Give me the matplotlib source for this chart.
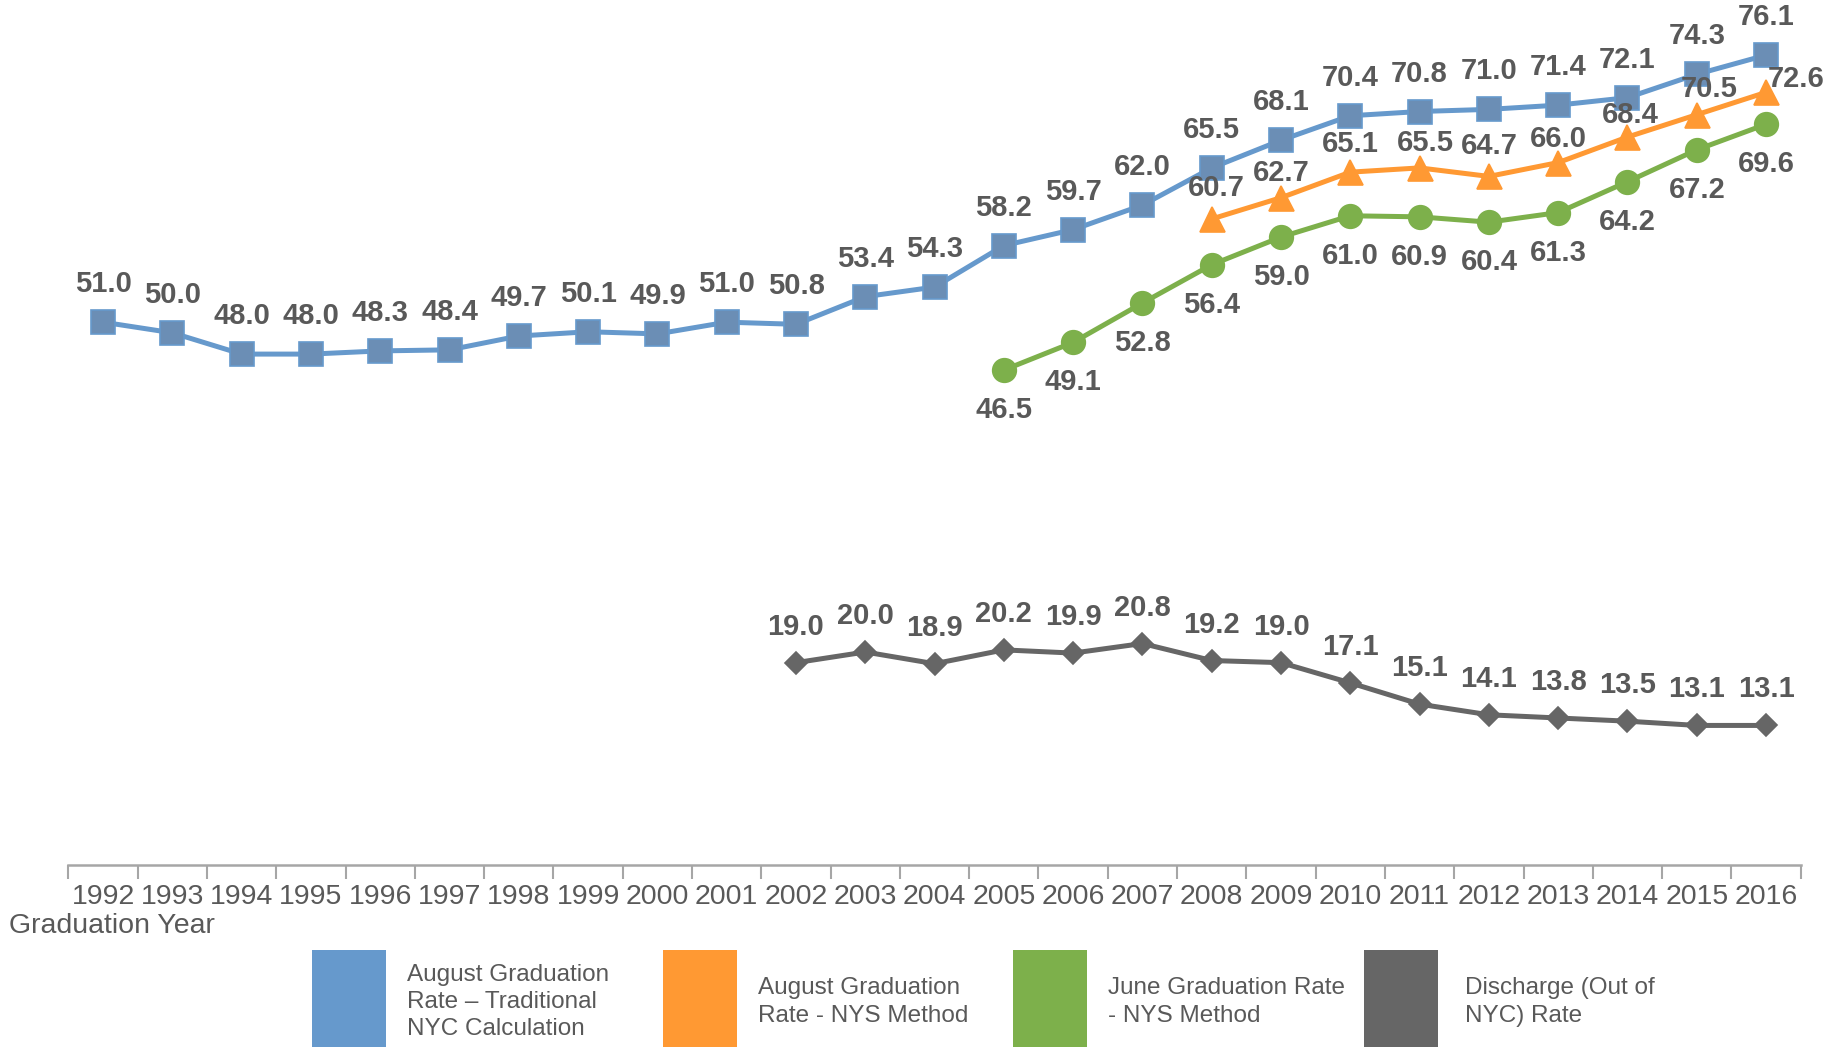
import matplotlib
matplotlib.use("Agg")
import matplotlib.pyplot as plt
from matplotlib.patches import Rectangle

plt.rcParams['font.family'] = ['Liberation Sans', 'DejaVu Sans']

# data
years = [str(y) for y in range(1992, 2017)]

aug_nyc = [51.0, 50.0, 48.0, 48.0, 48.3, 48.4, 49.7, 50.1, 49.9, 51.0, 50.8, 53.4,
           54.3, 58.2, 59.7, 62.0, 65.5, 68.1, 70.4, 70.8, 71.0, 71.4, 72.1, 74.3, 76.1]
aug_nys_start = 2008
aug_nys = [60.7, 62.7, 65.1, 65.5, 64.7, 66.0, 68.4, 70.5, 72.6]
june_nys_start = 2005
june_nys = [46.5, 49.1, 52.8, 56.4, 59.0, 61.0, 60.9, 60.4, 61.3, 64.2, 67.2, 69.6]
discharge_start = 2002
discharge = [19.0, 20.0, 18.9, 20.2, 19.9, 20.8, 19.2, 19.0, 17.1, 15.1, 14.1, 13.8,
             13.5, 13.1, 13.1]

labels = ["August Graduation\nRate \u2013 Traditional\nNYC Calculation",
          "August Graduation\nRate - NYS Method",
          "June Graduation Rate\n- NYS Method",
          "Discharge (Out of\nNYC) Rate"]

TXT = '#595959'
colors = ['#6699CC', '#FF9933', '#7DB04B', '#666666']

fig = plt.figure(figsize=(18.35, 10.47), dpi=100)
ax = fig.add_axes([0.0373, 0.174, 0.944, 0.813])


def xs(start, n):
    i0 = start - 1992
    return list(range(i0, i0 + n))


series = [
    (xs(1992, len(aug_nyc)), aug_nyc, colors[0], 's', 17, '#6B8EB5'),
    (xs(aug_nys_start, len(aug_nys)), aug_nys, colors[1], '^', 18, colors[1]),
    (xs(june_nys_start, len(june_nys)), june_nys, colors[2], 'o', 17, colors[2]),
    (xs(discharge_start, len(discharge)), discharge, colors[3], 'D', 11, colors[3]),
]

for x, y, c, m, ms, fc in series:
    ax.plot(x, y, color=c, lw=3.6, marker=m, ms=ms, mfc=fc, mec=c, mew=1.2,
            zorder=3, clip_on=False)

lab_kw = dict(textcoords='offset pixels', ha='center', va='center',
              fontsize=21, fontweight='bold', color=TXT)

# blue labels above
for x, v in zip(series[0][0], aug_nyc):
    ax.annotate(f"{v:.1f}", (x, v), xytext=(0, 38), **lab_kw)

# orange labels above, last ones nudged right
orange_dx = [5, 0, 0, 6, 0, 0, 3, 12, 30]
orange_dy = [31, 25, 28, 25, 30, 24, 22, 26, 13]
for x, v, dx, dy in zip(series[1][0], aug_nys, orange_dx, orange_dy):
    ax.annotate(f"{v:.1f}", (x, v), xytext=(dx, dy), **lab_kw)

# green labels below
for x, v in zip(series[2][0], june_nys):
    ax.annotate(f"{v:.1f}", (x, v), xytext=(0, -40), **lab_kw)

# gray labels above
for x, v in zip(series[3][0], discharge):
    ax.annotate(f"{v:.1f}", (x, v), xytext=(0, 36), **lab_kw)

ax.set_xlim(-0.5, len(years) - 0.5)
ax.set_ylim(0, 80)
ax.set_xticks(range(len(years)))
ax.set_xticklabels(years)
ax.set_xticks([i - 0.5 for i in range(len(years) + 1)], minor=True)
ax.tick_params(axis='x', which='major', length=0, pad=14, labelsize=20.5, labelcolor=TXT)
ax.tick_params(axis='x', which='minor', length=10, width=1.5, color='#A6A6A6', direction='out')
ax.set_yticks([])
for s in ['top', 'right', 'left']:
    ax.spines[s].set_visible(False)
ax.spines['bottom'].set_color('#A6A6A6')
ax.spines['bottom'].set_linewidth(1.8)

fig.text(0.005, 1 - 926 / 1047, "Graduation Year", fontsize=20.5, color=TXT,
         ha='left', va='center')

# legend: tall colour blocks with wrapped text
for i, (lab, c) in enumerate(zip(labels, colors)):
    x0 = (312 + i * 350.5) / 1835
    fig.add_artist(Rectangle((x0, 0), 74 / 1835, (1047 - 950) / 1047,
                             transform=fig.transFigure, color=c, lw=0))
    tx = x0 + (95 if i < 3 else 101) / 1835
    fig.text(tx, 1 - 1002 / 1047, lab, fontsize=17.5, color=TXT, ha='left',
             va='center', linespacing=1.32)

fig.savefig("out.png", dpi=100)
